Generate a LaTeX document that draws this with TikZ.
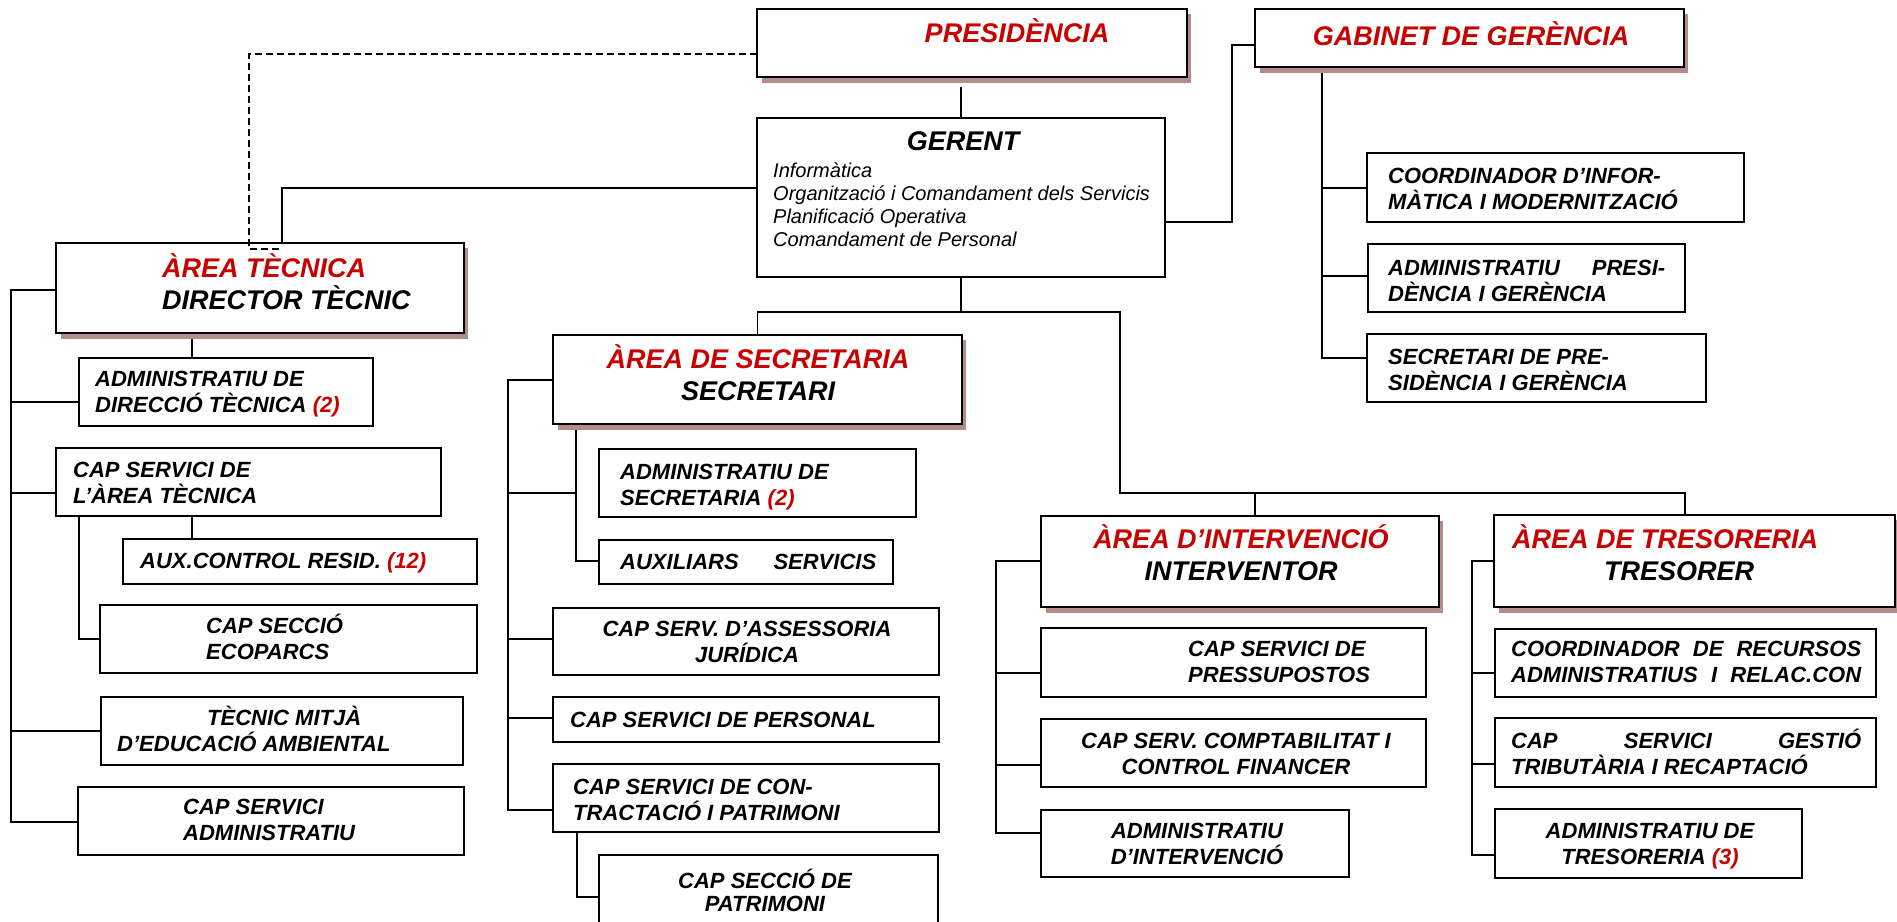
\documentclass[tikz,border=0pt]{standalone}
\usepackage{fontspec}
\setmainfont{Liberation Sans}
\definecolor{dred}{RGB}{200,0,0}
\definecolor{shc}{RGB}{180,140,140}
\newcommand\Lft[1]{\vtop{\halign{##\hfil\cr#1\crcr}}}
\newcommand\Ctr[1]{\vtop{\halign{\hfil##\hfil\cr#1\crcr}}}
\newcommand\rd[1]{\textcolor{dred}{#1}}
\newcommand\bx[6][sbox]{\node[#1,minimum width=#5pt-#3pt,minimum height=#6pt-#4pt,anchor=north west] (#2) at (#3,#4) {};}
\newcommand\shd[1]{%
  \fill[shc] ([xshift=5pt,yshift=-1pt]#1.south west) rectangle ([xshift=4pt,yshift=-6pt]#1.south east);
  \fill[shc] ([xshift=1pt,yshift=-5pt]#1.north east) rectangle ([xshift=4pt,yshift=-1pt]#1.south east);}
\tikzset{
  sbox/.style={draw,line width=1.6pt,inner sep=0pt,outer sep=0pt},
  hbox/.style={draw,line width=2.4pt,inner sep=0pt,outer sep=0pt},
  hd/.style={font=\fontsize{27}{32}\selectfont\bfseries\itshape,inner sep=0pt},
  tx/.style={font=\fontsize{22}{26}\selectfont\bfseries\itshape,inner sep=0pt},
  ls/.style={font=\fontsize{20}{23}\selectfont\itshape,inner sep=0pt},
  ln/.style={line width=1.4pt},
  dl/.style={line width=1.2pt,dash pattern=on 7pt off 4pt}
}
\begin{document}
\begin{tikzpicture}[x=1pt,y=-1pt]
\useasboundingbox (0,0) rectangle (1897,921);
\fill[white] (0,0) rectangle (1897,921);
% ---------- boxes ----------
\bx[hbox]{pres}{757}{9}{1187}{77}
\bx[hbox]{gab}{1255}{9}{1684}{67}
\bx{ger}{757}{118}{1165}{277}
\bx[hbox]{tec}{56}{243}{464}{333}
\bx{adir}{79}{358}{373}{426}
\bx{csat}{56}{448}{441}{516}
\bx{aux}{123}{539}{477}{584}
\bx{eco}{100}{605}{477}{673}
\bx{tm}{101}{697}{463}{765}
\bx{csa}{78}{787}{464}{855}
\bx[hbox]{sec}{553}{335}{962}{424}
\bx{asec}{599}{449}{916}{517}
\bx{auxs}{599}{540}{893}{584}
\bx{ass}{553}{608}{939}{675}
\bx{per}{553}{697}{939}{742}
\bx{con}{553}{764}{939}{832}
\bx{pat}{599}{855}{938}{940}
\bx{cinf}{1367}{153}{1744}{222}
\bx{apg}{1368}{244}{1685}{312}
\bx{sgp}{1367}{334}{1706}{402}
\bx[hbox]{int}{1041}{516}{1439}{607}
\bx{pre}{1041}{628}{1426}{697}
\bx{cmp}{1041}{719}{1426}{787}
\bx{aint}{1041}{810}{1349}{877}
\bx[hbox]{tre}{1494}{515}{1895}{607}
\bx{crec}{1495}{629}{1876}{697}
\bx{gest}{1495}{718}{1876}{787}
\bx{atre}{1495}{809}{1802}{878}
% ---------- connectors ----------
\coordinate (dA) at (249,54);
\coordinate (dB) at (282,249);
\draw[dl] (pres.west |- dA) -- (dA) |- (dB);
\coordinate (tj) at (282,188);
\draw[ln] (ger.west |- tj) -- (tj) -- (tj |- tec.north);
\coordinate (gj1) at (1232,222);
\coordinate (gj2) at (1232,45);
\draw[ln] (ger.east |- gj1) -- (gj1) -- (gj2) -- (gj2 -| gab.west);
\draw[ln] (ger.north) -- ++(0,-31);
\coordinate (bar1) at (1120,312);
\coordinate (bar2) at (1120,493);
\coordinate (ij) at (1255,493);
\coordinate (tjj) at (1685,493);
\draw[ln] (ger.south) -- (ger.south |- bar1);
\draw[ln] (sec.north) |- (bar1) -- (bar2) -- (tjj) -- (tjj |- tre.north);
\draw[ln] (ij) -- (ij |- int.north);
% area tecnica
\draw[ln] (tec.west |- 0,290) -- (11,290) -- (11,822) -- (csa.west |- 0,822);
\draw[ln] (11,402) -- (adir.west |- 0,402);
\draw[ln] (11,493) -- (csat.west |- 0,493);
\draw[ln] (11,731) -- (tm.west |- 0,731);
\draw[ln] (tec.south -| 192,0) -- (adir.north -| 192,0);
\draw[ln] (csat.south -| 192,0) -- (aux.north -| 192,0);
\draw[ln] (csat.south -| 79,0) -- (79,639) -- (eco.west |- 0,639);
% secretaria
\draw[ln] (sec.west |- 0,380) -- (508,380) -- (508,810) -- (con.west |- 0,810);
\draw[ln] (508,493) -- (576,493);
\draw[ln] (508,639) -- (ass.west |- 0,639);
\draw[ln] (508,718) -- (per.west |- 0,718);
\draw[ln] (sec.south -| 576,0) -- (576,561) -- (auxs.west |- 0,561);
\draw[ln] (con.south -| 577,0) -- (577,897) -- (pat.west |- 0,897);
% intervencio
\draw[ln] (int.west |- 0,561) -- (996,561) -- (996,833) -- (aint.west |- 0,833);
\draw[ln] (996,673) -- (pre.west |- 0,673);
\draw[ln] (996,765) -- (cmp.west |- 0,765);
% tresoreria
\draw[ln] (tre.west |- 0,561) -- (1472,561) -- (1472,855) -- (atre.west |- 0,855);
\draw[ln] (1472,673) -- (crec.west |- 0,673);
\draw[ln] (1472,764) -- (gest.west |- 0,764);
% gabinet
\draw[ln] (gab.south -| 1322,0) -- (1322,358) -- (sgp.west |- 0,358);
\draw[ln] (1322,188) -- (cinf.west |- 0,188);
\draw[ln] (1322,276) -- (apg.west |- 0,276);
% ---------- shadows ----------
\shd{pres}\shd{gab}\shd{tec}\shd{sec}\shd{int}\shd{tre}
% ---------- texts ----------
\node[hd,text=dred,anchor=base] (pres-t) at (1017,42) {PRESIDÈNCIA};
\node[hd,text=dred,anchor=base] (gab-t) at (1471,45) {GABINET DE GERÈNCIA};
\node[hd,anchor=base] (ger-t) at (963,150) {GERENT};
\node[ls,anchor=base west] (ger-l) at (773,177) {\Lft{Informàtica\cr Organització i Comandament dels Servicis\cr Planificació Operativa\cr Comandament de Personal}};
\node[hd,anchor=base west] (tec-t) at (162,277) {\Lft{\color{dred}ÀREA TÈCNICA\cr DIRECTOR TÈCNIC}};
\node[hd,anchor=base] (sec-t) at (758,368) {\Ctr{\color{dred}ÀREA DE SECRETARIA\cr SECRETARI}};
\node[hd,anchor=base] (int-t) at (1241,548) {\Ctr{\color{dred}ÀREA D’INTERVENCIÓ\cr INTERVENTOR}};
\node[hd,anchor=base west] (tre-t) at (1512,548) {\Lft{\color{dred}ÀREA DE TRESORERIA\cr \hspace*{92pt}TRESORER}};
\node[tx,anchor=base west] (adir-t) at (95,386) {\Lft{ADMINISTRATIU DE\cr DIRECCIÓ TÈCNICA \rd{(2)}}};
\node[tx,anchor=base west] (csat-t) at (73,477) {\Lft{CAP SERVICI DE\cr L’ÀREA TÈCNICA}};
\node[tx,anchor=base west] (aux-t) at (140,568) {AUX.CONTROL RESID. \rd{(12)}};
\node[tx,anchor=base west] (eco-t) at (206,633) {\Lft{CAP SECCIÓ\cr ECOPARCS}};
\node[tx,anchor=base west] (tm-t) at (117,725) {\Lft{\hspace*{90pt}TÈCNIC MITJÀ\cr D’EDUCACIÓ AMBIENTAL}};
\node[tx,anchor=base west] (csa-t) at (183,814) {\Lft{CAP SERVICI\cr ADMINISTRATIU}};
\node[tx,anchor=base west] (asec-t) at (620,479) {\Lft{ADMINISTRATIU DE\cr SECRETARIA \rd{(2)}}};
\node[tx,anchor=base west] (auxs-t) at (620,569) {\makebox[256pt][s]{AUXILIARS SERVICIS}};
\node[tx,anchor=base] (ass-t) at (747,636) {\Ctr{CAP SERV. D’ASSESSORIA\cr JURÍDICA}};
\node[tx,anchor=base west] (per-t) at (570,727) {CAP SERVICI DE PERSONAL};
\node[tx,anchor=base west] (con-t) at (573,794) {\Lft{CAP SERVICI DE CON-\cr TRACTACIÓ I PATRIMONI}};
\node[tx,font=\fontsize{22}{23}\selectfont\bfseries\itshape,anchor=base] (pat-t) at (765,888) {\Ctr{CAP SECCIÓ DE\cr PATRIMONI}};
\node[tx,anchor=base west] (cinf-t) at (1388,183) {\Lft{COORDINADOR D’INFOR-\cr MÀTICA I MODERNITZACIÓ}};
\node[tx,anchor=base west] (apg-t) at (1388,275) {\Lft{\makebox[277pt][s]{ADMINISTRATIU PRESI-}\cr DÈNCIA I GERÈNCIA}};
\node[tx,anchor=base west] (sgp-t) at (1388,364) {\Lft{SECRETARI DE PRE-\cr SIDÈNCIA I GERÈNCIA}};
\node[tx,anchor=base west] (pre-t) at (1188,656) {\Lft{CAP SERVICI DE\cr PRESSUPOSTOS}};
\node[tx,anchor=base] (cmp-t) at (1236,748) {\Ctr{CAP SERV. COMPTABILITAT I\cr CONTROL FINANCER}};
\node[tx,anchor=base] (aint-t) at (1197,838) {\Ctr{ADMINISTRATIU\cr D’INTERVENCIÓ}};
\node[tx,anchor=base west] (crec-t) at (1511,656) {\Lft{\makebox[350pt][s]{COORDINADOR DE RECURSOS}\cr \makebox[350pt][s]{ADMINISTRATIUS I RELAC.CON}}};
\node[tx,anchor=base west] (gest-t) at (1511,748) {\Lft{\makebox[350pt][s]{CAP SERVICI GESTIÓ}\cr TRIBUTÀRIA I RECAPTACIÓ}};
\node[tx,anchor=base] (atre-t) at (1650,838) {\Ctr{ADMINISTRATIU DE\cr TRESORERIA \rd{(3)}}};
\end{tikzpicture}
\end{document}
